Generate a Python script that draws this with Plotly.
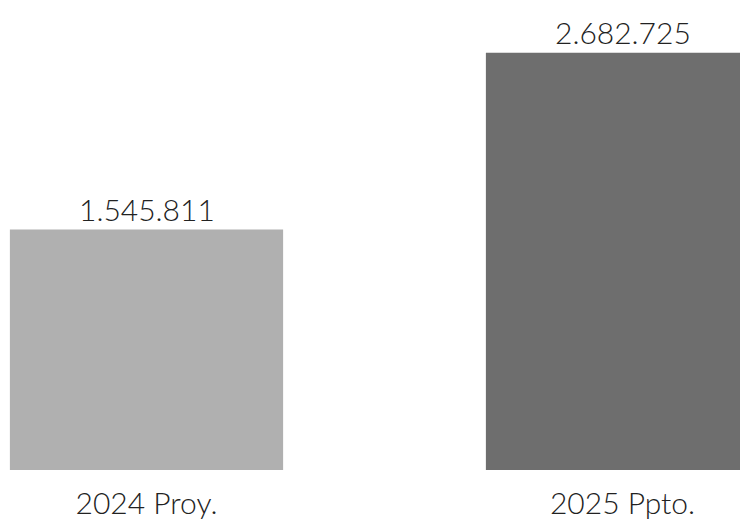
import plotly.graph_objects as go

categories = ["2024 Proy.", "2025 Ppto."]
values = [1545811, 2682725]
value_labels = ["1.545.811", "2.682.725"]
bar_colors = ["#b0b0b0", "#6e6e6e"]

FONT = "Lato, 'Open Sans', sans-serif"
FSIZE = 30

fig = go.Figure()
fig.add_trace(go.Bar(
    x=categories,
    y=values,
    marker=dict(color=bar_colors, line=dict(width=0)),
    width=0.574,
    hoverinfo="skip",
))

for c, v, t in zip(categories, values, value_labels):
    fig.add_annotation(
        x=c, y=v, text=t, showarrow=False,
        yanchor="bottom", yshift=1,
        font=dict(family=FONT, size=FSIZE, color="#222222", weight=300),
    )

fig.update_layout(
    width=740, height=513,
    margin=dict(l=0, r=0, t=0, b=51),
    paper_bgcolor="white", plot_bgcolor="white",
    showlegend=False,
    font=dict(family=FONT, size=FSIZE, color="#222222", weight=300),
)
fig.update_xaxes(
    range=[-138.5 / 476, (740 - 138.5) / 476],
    showgrid=False, zeroline=False, showline=False, ticks="",
    tickfont=dict(family=FONT, size=FSIZE, color="#222222", weight=300),
    ticklabelstandoff=13,
)
fig.update_yaxes(
    range=[0, 2971000],
    visible=False, showgrid=False, zeroline=False,
)

fig.write_html("out.html")
